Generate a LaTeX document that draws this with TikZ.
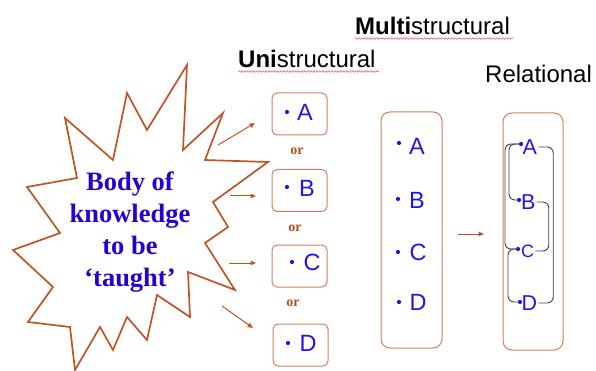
\documentclass[tikz,border=0pt]{standalone}
\usepackage{fontspec}
\setmainfont{Liberation Serif}
\setsansfont{Liberation Sans}
\usetikzlibrary{arrows.meta,decorations.pathmorphing}
\definecolor{starcol}{RGB}{192,84,36}
\definecolor{boxcol}{RGB}{210,126,92}
\definecolor{arrcol}{RGB}{192,82,34}
\definecolor{letblue}{RGB}{34,20,232}
\definecolor{startext}{RGB}{40,0,205}
\definecolor{orcol}{RGB}{168,80,32}
\definecolor{squig}{RGB}{230,100,100}
\begin{document}
\begin{tikzpicture}[x=1pt,y=-1pt,
  itembox/.style={draw=boxcol,line width=1pt,rounded corners=5pt,minimum width=55pt,minimum height=42pt},
  tallbox/.style={draw=boxcol,line width=1pt,rounded corners=9pt,minimum width=61pt},
  letter/.style={text=letblue,font=\sffamily\fontsize{23.5}{23.5}\selectfont,inner sep=0pt,anchor=center},
  rletter/.style={text=letblue,font=\sffamily\fontsize{21.5}{21.5}\selectfont,inner sep=0pt,anchor=center},
  dot/.style={circle,fill=letblue,inner sep=0pt,minimum size=4.2pt},
  ortext/.style={text=orcol,font=\bfseries\fontsize{14}{14}\selectfont,inner sep=0pt},
  heading/.style={font=\sffamily\fontsize{24}{24}\selectfont,inner sep=0pt,anchor=base west},
  arr/.style={draw=arrcol,line width=1pt,-{Triangle[length=5.5pt,width=4.5pt]}},
  bracket/.style={draw=black!75,line width=0.9pt,rounded corners=6pt},
  squiggle/.style={draw=squig,line width=0.6pt,decorate,decoration={snake,amplitude=0.8pt,segment length=3pt}}
]
\useasboundingbox (0,0) rectangle (596,371);

% star
\draw[starcol,line width=1.7pt,line join=miter]
 (187,65) -- (183,150) -- (223,113) -- (205,160) -- (268,162) -- (213,202)
 -- (228,227) -- (205,243) -- (235,290) -- (188,272) -- (190,317) -- (157,295)
 -- (147,340) -- (127,317) -- (113,350) -- (100,327) -- (75,370) -- (70,327)
 -- (28,322) -- (53,287) -- (13,250) -- (60,233) -- (27,187) -- (77,178)
 -- (65,118) -- (113,160) -- (127,93) -- (147,130) -- cycle;
\node[text=startext,font=\bfseries\fontsize{26.5}{32}\selectfont,align=center,inner sep=0pt] (body) at (130,232)
 {Body of\\knowledge\\to be\\‘taught’};

% headings
\node[heading] (uni) at (238,68) {\textbf{Uni}structural};
\node[heading] (multi) at (355,35) {\textbf{Multi}structural};
\node[heading] (rel) at (485,83) {Relational};
\draw[squiggle] ([yshift=-3.5pt]uni.base west) -- ([yshift=-3.5pt,xshift=3pt]uni.base east);
\draw[squiggle] ([yshift=-3.5pt]multi.base west) -- ([yshift=-3.5pt,xshift=3pt]multi.base east);

% unistructural boxes
\node[itembox] (ua) at (299.5,114) {};
\node[itembox] (ub) at (299.5,190.5) {};
\node[itembox] (uc) at (299.5,266) {};
\node[itembox] (ud) at (300.5,345) {};
\node[dot] (uad) at (287,112) {};
\node[letter] (ual) at (305,112) {A};
\node[dot] (ubd) at (287,187) {};
\node[letter] (ubl) at (307,188) {B};
\node[dot] (ucd) at (292,262) {};
\node[letter] (ucl) at (312,262) {C};
\node[dot] (udd) at (288,343) {};
\node[letter] (udl) at (308,343) {D};
\node[ortext] (or1) at (297,151) {or};
\node[ortext] (or2) at (295,228) {or};
\node[ortext] (or3) at (293,303) {or};

% arrows to unistructural
\coordinate (s1) at (218,145); \coordinate (e1) at (255,123);
\coordinate (s2) at (230,196); \coordinate (e2) at (256,196);
\coordinate (s3) at (229,263); \coordinate (e3) at (256,263);
\coordinate (s4) at (222,306); \coordinate (e4) at (253,328);
\draw[arr] (s1) -- (e1);
\draw[arr] (s2) -- (e2);
\draw[arr] (s3) -- (e3);
\draw[arr] (s4) -- (e4);

% multistructural
\node[tallbox,minimum height=236pt] (mbox) at (411.5,230) {};
\node[dot] (mad) at (399,143) {};
\node[letter] (mal) at (417,146) {A};
\node[dot] (mbd) at (398,199) {};
\node[letter] (mbl) at (417,200) {B};
\node[dot] (mcd) at (398,252) {};
\node[letter] (mcl) at (418,252) {C};
\node[dot] (mdd) at (399,302) {};
\node[letter] (mdl) at (418,302) {D};
\coordinate (s5) at (458,234); \coordinate (e5) at (484,234);
\draw[arr] (s5) -- (e5);

% relational
\node[tallbox,minimum width=60pt,minimum height=237pt] (rbox) at (533,231.5) {};
\node[dot] (rad) at (521,144) {};
\node[rletter,anchor=west] (ral) at (522.5,147) {A};
\node[dot] (rbd) at (519,200) {};
\node[rletter,anchor=west] (rbl) at (521,202) {B};
\node[dot] (rcd) at (518,249) {};
\node[rletter,anchor=west,font=\sffamily\fontsize{18}{18}\selectfont] (rcl) at (521,251) {C};
\node[dot] (rdd) at (520,302) {};
\node[rletter,anchor=west] (rdl) at (521.5,303) {D};

% brackets
\draw[bracket] (rad.center) -- ++(-12,0) |- (rbd.center);
\draw[bracket] (rad.center) -- ++(-16,0) |- (rcd.center);
\draw[bracket] (rcd.center) -- ++(-10,0) |- (rdd.center);
\draw[bracket] ([xshift=1pt]ral.east) -- ++(15,0) |- ([xshift=1pt]rdl.east);
\draw[bracket] ([xshift=1pt]rbl.east) -- ++(12,0) |- ([xshift=1pt]rcl.east);
\end{tikzpicture}
\end{document}
